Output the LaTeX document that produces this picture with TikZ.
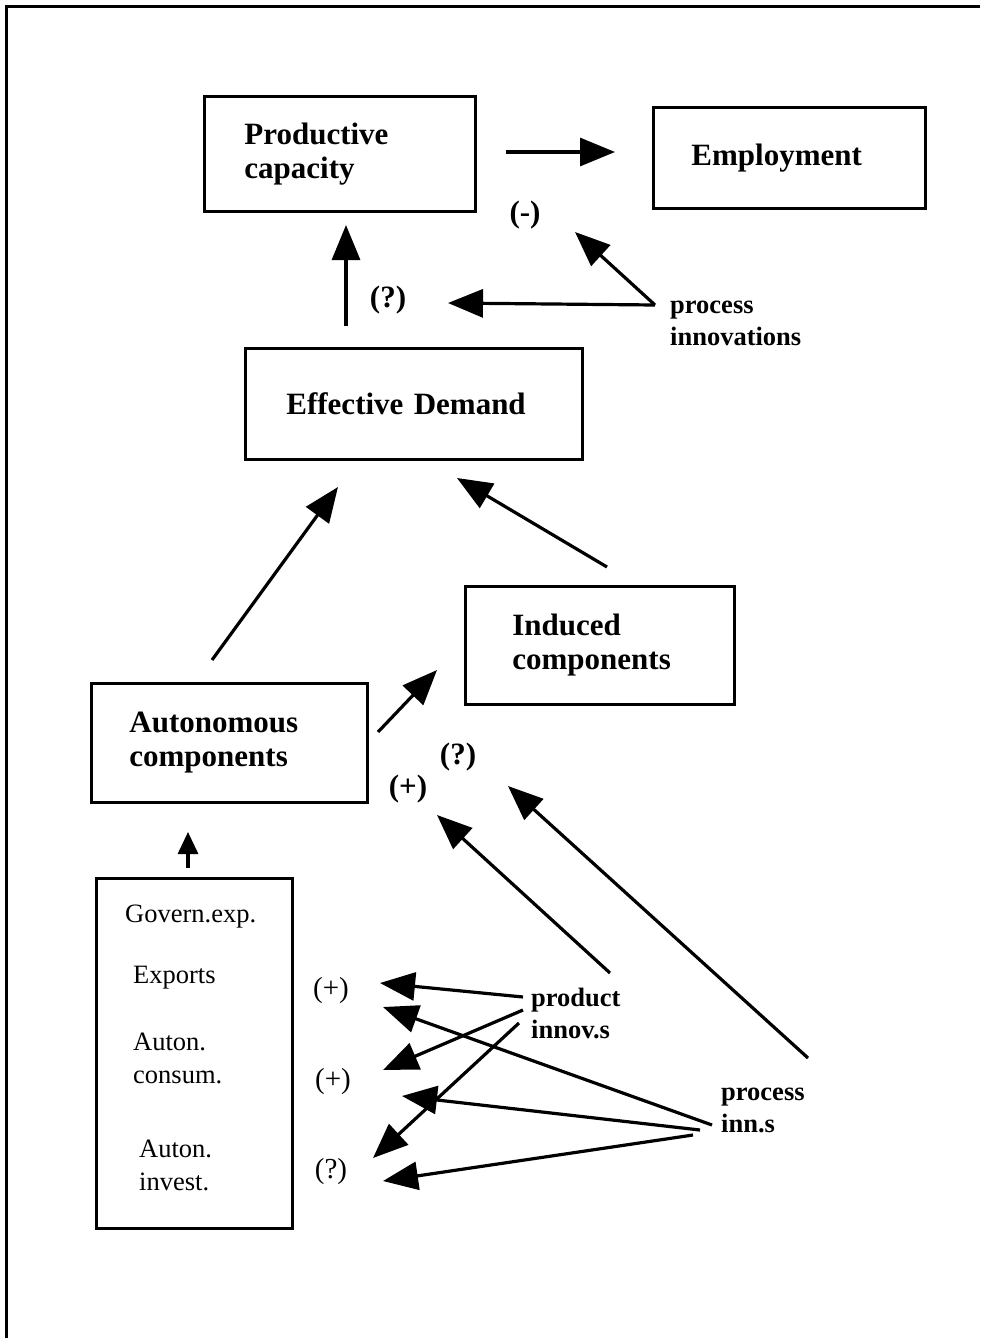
\documentclass[tikz,border=0pt]{standalone}
\usepackage{fontspec}
\setmainfont{Liberation Serif}
\usetikzlibrary{arrows.meta}
\begin{document}
\begin{tikzpicture}[x=1pt,y=-1pt,
  box/.style={draw, line width=2.8pt, rectangle, anchor=north west, inner ysep=0pt, font=\fontsize{31}{34}\selectfont\bfseries},
  arr/.style={line width=3.2pt, -{Triangle[length=35pt,width=28pt]}},
  sign/.style={font=\fontsize{31}{32}\selectfont\bfseries, inner sep=0pt},
  signr/.style={font=\fontsize{29}{32}\selectfont, inner sep=0pt},
  small/.style={font=\fontsize{26.5}{32}\selectfont\bfseries, align=left, anchor=west, inner sep=0pt},
  item/.style={font=\fontsize{26.5}{30}\selectfont, anchor=base west, inner sep=0pt}]
\useasboundingbox (0,0) rectangle (980,1338);
% frame
\draw[line width=3pt] (980,7) -- (6,7) -- (6,1338);
% boxes
\node[box, minimum width=271pt, minimum height=115pt, inner xsep=40pt, text width=191pt, align=left] (pc) at (203,95) {Productive\\capacity};
\node[box, minimum width=272pt, minimum height=101pt, inner xsep=38pt, text width=196pt, align=left] (emp) at (652,106) {Employment};
\node[box, minimum width=337pt, minimum height=111pt, inner xsep=41pt, text width=255pt, align=left] (ed) at (244,347) {Effective Demand};
\node[box, minimum width=269pt, minimum height=118pt, inner xsep=47pt, text width=175pt, align=left] (ind) at (464,585) {Induced\\components};
\node[box, minimum width=276pt, minimum height=119pt, inner xsep=38pt, text width=200pt, align=left] (aut) at (90,682) {Autonomous\\components};
\node[box, minimum width=196pt, minimum height=350pt] (low) at (95,877) {};
% lower box items
\node[item] (gov) at (125,922) {Govern.exp.};
\node[item] (exp) at (133,983) {Exports};
\node[item] (ac1) at (133,1050) {Auton.};
\node[item] (ac2) at (133,1083) {consum.};
\node[item] (ai1) at (139,1157) {Auton.};
\node[item] (ai2) at (139,1190) {invest.};
% signs
\node[sign] (s1) at (525,215) {(-)};
\node[sign] (s2) at (388,300) {(?)};
\node[sign] (s3) at (458,757) {(?)};
\node[sign] (s4) at (408,789) {(+)};
\node[signr] (s5) at (331,991) {(+)};
\node[signr] (s6) at (333,1082) {(+)};
\node[signr] (s7) at (331,1172) {(?)};
% labels
\node[small] (pin) at (670,323) {process\\innovations};
\node[small] (prod) at (531,1013) {product\\innov.s};
\node[small] (pinn) at (721,1110) {process\\inn.s};
% coordinates
\coordinate (a1s) at (506,152); \coordinate (a1e) at (615,152);
\coordinate (pv) at (655,305);
\coordinate (a2e) at (575,232); \coordinate (a3e) at (448,303);
\coordinate (a4s) at (346,326); \coordinate (a4e) at (346,225);
\coordinate (a5s) at (212,660); \coordinate (a5e) at (338,487);
\coordinate (a6s) at (607,567); \coordinate (a6e) at (457,478);
\coordinate (a7s) at (378,732); \coordinate (a7e) at (437,670);
\coordinate (a8s) at (610,973); \coordinate (a8e) at (437,815);
\coordinate (a9s) at (808,1058); \coordinate (a9e) at (508,786);
\coordinate (a10s) at (188,868); \coordinate (a10e) at (188,832);
\coordinate (p1) at (523,997); \coordinate (p1e) at (380,983);
\coordinate (p2) at (523,1010); \coordinate (p2e) at (383,1070);
\coordinate (p3) at (519,1023); \coordinate (p3e) at (373,1158);
\coordinate (q1) at (712,1125); \coordinate (q1e) at (383,1007);
\coordinate (q2) at (700,1130); \coordinate (q2e) at (402,1096);
\coordinate (q3) at (693,1135); \coordinate (q3e) at (383,1181);
% arrows
\draw[arr] (a1s) -- (a1e);
\draw[arr] (pv) -- (a2e);
\draw[arr] (pv) -- (a3e);
\draw[arr] (a4s) -- (a4e);
\draw[arr] (a5s) -- (a5e);
\draw[arr] (a6s) -- (a6e);
\draw[arr] (a7s) -- (a7e);
\draw[arr] (a8s) -- (a8e);
\draw[arr] (a9s) -- (a9e);
\draw[line width=3.2pt, -{Triangle[length=22pt,width=20pt]}] (a10s) -- (a10e);
\draw[arr] (p1) -- (p1e);
\draw[arr] (p2) -- (p2e);
\draw[arr] (p3) -- (p3e);
\draw[arr] (q1) -- (q1e);
\draw[arr] (q2) -- (q2e);
\draw[arr] (q3) -- (q3e);
\end{tikzpicture}
\end{document}
